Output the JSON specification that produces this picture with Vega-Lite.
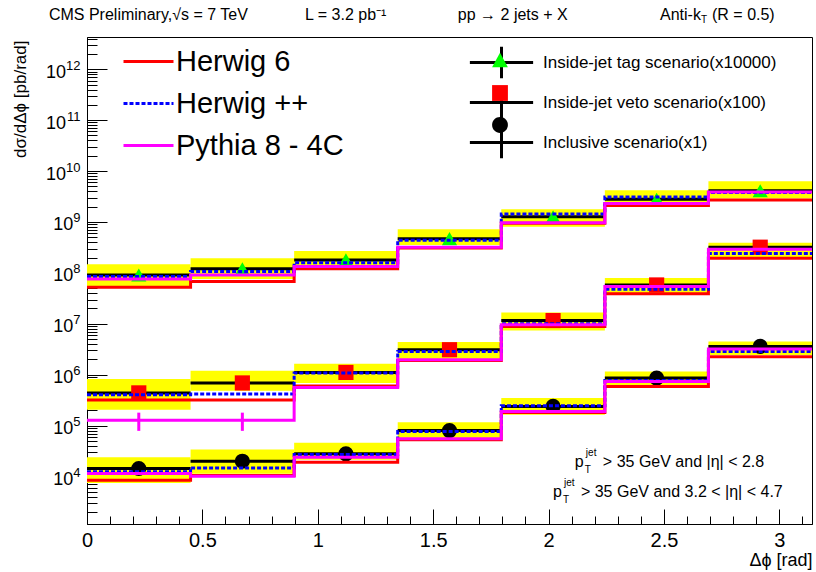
{
  "$schema": "https://vega.github.io/schema/vega-lite/v6.json",
  "width": 725,
  "height": 487,
  "autosize": {"type": "none"},
  "padding": {"left": 87, "top": 37, "right": 4, "bottom": 48},
  "background": "white",
  "config": {
    "font": "Liberation Sans",
    "view": {"stroke": "black", "strokeWidth": 1},
    "axis": {"labelFont": "Liberation Sans", "titleFont": "Liberation Sans", "tickColor": "black", "domainColor": "black", "labelColor": "black", "titleColor": "black", "grid": false, "tickWidth": 1, "domainWidth": 1, "titleFontWeight": "normal"},
    "legend": {"labelFont": "Liberation Sans", "labelColor": "black"},
    "text": {"font": "Liberation Sans", "color": "black"}
  },
  "datasets": {
    "hist": [
      {"scen": "Inside-jet tag scenario(x10000)", "bin": 1, "lo": 0.0, "hi": 0.4488, "xc": 0.2244, "data": 9.1e7, "blo": 5.4e7, "bhi": 1.48e8, "Herwig 6": 5.2e7, "Herwig ++": 8.5e7, "Pythia 8 - 4C": 7.6e7},
      {"scen": "Inside-jet tag scenario(x10000)", "bin": 2, "lo": 0.4488, "hi": 0.8976, "xc": 0.6732, "data": 1.2e8, "blo": 7.6e7, "bhi": 1.94e8, "Herwig 6": 6.75e7, "Herwig ++": 1.06e8, "Pythia 8 - 4C": 9.1e7},
      {"scen": "Inside-jet tag scenario(x10000)", "bin": 3, "lo": 0.8976, "hi": 1.3464, "xc": 1.122, "data": 1.8e8, "blo": 1.24e8, "bhi": 2.7e8, "Herwig 6": 1.2e8, "Herwig ++": 1.59e8, "Pythia 8 - 4C": 1.33e8},
      {"scen": "Inside-jet tag scenario(x10000)", "bin": 4, "lo": 1.3464, "hi": 1.7952, "xc": 1.5708, "data": 4.7e8, "blo": 3.55e8, "bhi": 7.2e8, "Herwig 6": 3.1e8, "Herwig ++": 4.4e8, "Pythia 8 - 4C": 3.2e8},
      {"scen": "Inside-jet tag scenario(x10000)", "bin": 5, "lo": 1.7952, "hi": 2.244, "xc": 2.0196, "data": 1.27e9, "blo": 8.1e8, "bhi": 1.78e9, "Herwig 6": 9.4e8, "Herwig ++": 1.44e9, "Pythia 8 - 4C": 9.7e8},
      {"scen": "Inside-jet tag scenario(x10000)", "bin": 6, "lo": 2.244, "hi": 2.6928, "xc": 2.4684, "data": 2.8e9, "blo": 2.15e9, "bhi": 4.2e9, "Herwig 6": 2.1e9, "Herwig ++": 3.1e9, "Pythia 8 - 4C": 2.3e9},
      {"scen": "Inside-jet tag scenario(x10000)", "bin": 7, "lo": 2.6928, "hi": 3.1416, "xc": 2.9172, "data": 4.1e9, "blo": 2.9e9, "bhi": 6.3e9, "Herwig 6": 2.7e9, "Herwig ++": 3.8e9, "Pythia 8 - 4C": 3.9e9},
      {"scen": "Inside-jet veto scenario(x100)", "bin": 1, "lo": 0.0, "hi": 0.4488, "xc": 0.2244, "data": 4.4e5, "blo": 2.06e5, "bhi": 8.2e5, "Herwig 6": 3.2e5, "Herwig ++": 4.05e5, "Pythia 8 - 4C": 1.27e5},
      {"scen": "Inside-jet veto scenario(x100)", "bin": 2, "lo": 0.4488, "hi": 0.8976, "xc": 0.6732, "data": 6.9e5, "blo": 4.85e5, "bhi": 1.2e6, "Herwig 6": 3.2e5, "Herwig ++": 4.2e5, "Pythia 8 - 4C": 1.27e5},
      {"scen": "Inside-jet veto scenario(x100)", "bin": 3, "lo": 0.8976, "hi": 1.3464, "xc": 1.122, "data": 1.11e6, "blo": 6.9e5, "bhi": 1.64e6, "Herwig 6": 6.0e5, "Herwig ++": 1.08e6, "Pythia 8 - 4C": 5.6e5},
      {"scen": "Inside-jet veto scenario(x100)", "bin": 4, "lo": 1.3464, "hi": 1.7952, "xc": 1.5708, "data": 3.1e6, "blo": 1.97e6, "bhi": 4.4e6, "Herwig 6": 1.9e6, "Herwig ++": 2.87e6, "Pythia 8 - 4C": 1.97e6},
      {"scen": "Inside-jet veto scenario(x100)", "bin": 5, "lo": 1.7952, "hi": 2.244, "xc": 2.0196, "data": 1.16e7, "blo": 7.4e6, "bhi": 1.67e7, "Herwig 6": 8.9e6, "Herwig ++": 1.0e7, "Pythia 8 - 4C": 9.6e6},
      {"scen": "Inside-jet veto scenario(x100)", "bin": 6, "lo": 2.244, "hi": 2.6928, "xc": 2.4684, "data": 5.8e7, "blo": 4.0e7, "bhi": 7.9e7, "Herwig 6": 3.9e7, "Herwig ++": 4.8e7, "Pythia 8 - 4C": 5.4e7},
      {"scen": "Inside-jet veto scenario(x100)", "bin": 7, "lo": 2.6928, "hi": 3.1416, "xc": 2.9172, "data": 3.2e8, "blo": 2.03e8, "bhi": 3.9e8, "Herwig 6": 1.94e8, "Herwig ++": 2.4e8, "Pythia 8 - 4C": 2.9e8},
      {"scen": "Inclusive scenario(x1)", "bin": 1, "lo": 0.0, "hi": 0.4488, "xc": 0.2244, "data": 1.44e4, "blo": 7.5e3, "bhi": 2.4e4, "Herwig 6": 8.5e3, "Herwig ++": 1.24e4, "Pythia 8 - 4C": 1.15e4},
      {"scen": "Inclusive scenario(x1)", "bin": 2, "lo": 0.4488, "hi": 0.8976, "xc": 0.6732, "data": 2.0e4, "blo": 1.13e4, "bhi": 3.4e4, "Herwig 6": 1.05e4, "Herwig ++": 1.48e4, "Pythia 8 - 4C": 1.01e4},
      {"scen": "Inclusive scenario(x1)", "bin": 3, "lo": 0.8976, "hi": 1.3464, "xc": 1.122, "data": 2.8e4, "blo": 2.15e4, "bhi": 4.6e4, "Herwig 6": 1.9e4, "Herwig ++": 2.7e4, "Pythia 8 - 4C": 2.4e4},
      {"scen": "Inclusive scenario(x1)", "bin": 4, "lo": 1.3464, "hi": 1.7952, "xc": 1.5708, "data": 8.0e4, "blo": 5.5e4, "bhi": 1.16e5, "Herwig 6": 5.3e4, "Herwig ++": 7.7e4, "Pythia 8 - 4C": 5.5e4},
      {"scen": "Inclusive scenario(x1)", "bin": 5, "lo": 1.7952, "hi": 2.244, "xc": 2.0196, "data": 2.39e5, "blo": 1.64e5, "bhi": 3.5e5, "Herwig 6": 1.82e5, "Herwig ++": 2.46e5, "Pythia 8 - 4C": 1.9e5},
      {"scen": "Inclusive scenario(x1)", "bin": 6, "lo": 2.244, "hi": 2.6928, "xc": 2.4684, "data": 8.6e5, "blo": 6.2e5, "bhi": 1.16e6, "Herwig 6": 5.9e5, "Herwig ++": 7.7e5, "Pythia 8 - 4C": 7.4e5},
      {"scen": "Inclusive scenario(x1)", "bin": 7, "lo": 2.6928, "hi": 3.1416, "xc": 2.9172, "data": 3.6e6, "blo": 2.45e6, "bhi": 4.5e6, "Herwig 6": 2.25e6, "Herwig ++": 2.87e6, "Pythia 8 - 4C": 3.2e6}
    ],
    "mcerr": [
      {"model": "Pythia 8 - 4C", "xc": 0.2244, "elo": 7.9e4, "ehi": 1.8e5},
      {"model": "Pythia 8 - 4C", "xc": 0.6732, "elo": 7.9e4, "ehi": 1.8e5}
    ],
    "one": [{}]
  },
  "data": {"name": "hist"},
  "layer": [
    {
      "mark": {"type": "rect", "color": "#ffff00"},
      "encoding": {
        "x": {"field": "lo", "type": "quantitative", "scale": {"domain": [0, 3.1416], "nice": false, "zero": false},
          "axis": {"orient": "bottom", "values": [0, 0.5, 1, 1.5, 2, 2.5, 3], "format": "~g", "tickSize": -15, "labelFontSize": 20, "labelPadding": 21, "labelFlush": false, "labelOverlap": false,
            "title": "Δϕ [rad]", "titleFontSize": 18, "titleAnchor": "end", "titleAlign": "right", "titleBaseline": "middle", "titleX": 725, "titleY": 36}},
        "x2": {"field": "hi"},
        "y": {"field": "blo", "type": "quantitative", "scale": {"type": "log", "domain": [1170, 4.3e12], "nice": false},
          "axis": {"orient": "left", "values": [1e10, 1e11, 1e12], "tickSize": -20, "labelFontSize": 18, "labelPadding": 41.5, "labelOffset": 3, "labelOverlap": false, "labelFlush": false, "labelAlign": "right", "labelBaseline": "middle",
            "labelExpr": "'10'",
            "title": "dσ/dΔϕ [pb/rad]", "titleFontSize": 17, "titleAnchor": "end", "titleAngle": 270, "titleAlign": "right", "titleBaseline": "middle", "titleX": -67, "titleY": 3}},
        "y2": {"field": "bhi"}
      }
    },
    {
      "mark": {"type": "rule", "color": "black", "strokeWidth": 3},
      "encoding": {
        "x": {"field": "lo", "type": "quantitative", "scale": {"domain": [0, 3.1416], "nice": false, "zero": false},
          "axis": {"orient": "bottom", "values": [0.1, 0.2, 0.3, 0.4, 0.6, 0.7, 0.8, 0.9, 1.1, 1.2, 1.3, 1.4, 1.6, 1.7, 1.8, 1.9, 2.1, 2.2, 2.3, 2.4, 2.6, 2.7, 2.8, 2.9, 3.1], "tickSize": -8, "labels": false, "domain": false, "title": null}},
        "x2": {"field": "hi"},
        "y": {"field": "data", "type": "quantitative", "scale": {"type": "log", "domain": [1170, 4.3e12], "nice": false},
          "axis": {"orient": "left", "values": [2e3, 3e3, 4e3, 5e3, 6e3, 7e3, 8e3, 9e3, 2e4, 3e4, 4e4, 5e4, 6e4, 7e4, 8e4, 9e4, 2e5, 3e5, 4e5, 5e5, 6e5, 7e5, 8e5, 9e5, 2e6, 3e6, 4e6, 5e6, 6e6, 7e6, 8e6, 9e6, 2e7, 3e7, 4e7, 5e7, 6e7, 7e7, 8e7, 9e7, 2e8, 3e8, 4e8, 5e8, 6e8, 7e8, 8e8, 9e8, 2e9, 3e9, 4e9, 5e9, 6e9, 7e9, 8e9, 9e9, 2e10, 3e10, 4e10, 5e10, 6e10, 7e10, 8e10, 9e10, 2e11, 3e11, 4e11, 5e11, 6e11, 7e11, 8e11, 9e11, 2e12, 3e12, 4e12], "tickSize": -10, "labels": false, "domain": false, "title": null}}
      }
    },
    {
      "mark": {"type": "point", "filled": true, "size": 230, "opacity": 1, "strokeWidth": 0},
      "encoding": {
        "x": {"field": "xc", "type": "quantitative", "scale": {"domain": [0, 3.1416], "nice": false, "zero": false}, "axis": null},
        "y": {"field": "data", "type": "quantitative", "scale": {"type": "log", "domain": [1170, 4.3e12], "nice": false},
          "axis": {"orient": "left", "values": [1e4, 1e5, 1e6, 1e7, 1e8, 1e9], "tickSize": -20, "domain": false, "labelFontSize": 18, "labelPadding": 34.2, "labelOffset": 3, "labelOverlap": false, "labelFlush": false, "labelAlign": "right", "labelBaseline": "middle", "labelExpr": "'10'", "title": null}},
        "shape": {"field": "scen", "type": "nominal", "scale": {"domain": ["Inside-jet tag scenario(x10000)", "Inside-jet veto scenario(x100)", "Inclusive scenario(x1)"], "range": ["triangle-up", "square", "circle"]}, "legend": null},
        "fill": {"field": "scen", "type": "nominal", "scale": {"domain": ["Inside-jet tag scenario(x10000)", "Inside-jet veto scenario(x100)", "Inclusive scenario(x1)"], "range": ["#00ff00", "#ff0000", "#000000"]}, "legend": null}
      }
    },
    {
      "transform": [
        {"fold": ["Herwig 6", "Herwig ++", "Pythia 8 - 4C"], "as": ["model", "val"]},
        {"fold": ["lo", "hi"], "as": ["edge", "xe"]}
      ],
      "mark": {"type": "line", "strokeWidth": 3},
      "encoding": {
        "x": {"field": "xe", "type": "quantitative", "scale": {"domain": [0, 3.1416], "nice": false, "zero": false}, "axis": null},
        "y": {"field": "val", "type": "quantitative", "scale": {"type": "log", "domain": [1170, 4.3e12], "nice": false}, "axis": null},
        "stroke": {"field": "model", "type": "nominal", "scale": {"domain": ["Herwig 6", "Herwig ++", "Pythia 8 - 4C"], "range": ["#ff0000", "#0000ff", "#ff00ff"]},
          "legend": {"orient": "none", "legendX": 35, "legendY": -2, "title": null, "symbolType": "stroke", "symbolSize": 2500, "symbolStrokeWidth": 3, "labelFontSize": 29, "labelOffset": 1, "rowPadding": -3, "labelLimit": 400}},
        "strokeDash": {"field": "model", "type": "nominal", "scale": {"domain": ["Herwig 6", "Herwig ++", "Pythia 8 - 4C"], "range": [[1, 0], [4, 2], [1, 0]]},
          "legend": {"orient": "none", "legendX": 35, "legendY": -2, "title": null, "symbolType": "stroke", "symbolSize": 2500, "symbolStrokeWidth": 3, "labelFontSize": 29, "labelOffset": 1, "rowPadding": -3, "labelLimit": 400}},
        "detail": {"field": "scen"},
        "order": [{"field": "bin", "type": "quantitative"}, {"field": "edge", "type": "nominal", "sort": "descending"}]
      }
    },
    {
      "data": {"name": "mcerr"},
      "mark": {"type": "rule", "color": "#ff00ff", "strokeWidth": 3},
      "encoding": {
        "x": {"field": "xc", "type": "quantitative", "scale": {"domain": [0, 3.1416], "nice": false, "zero": false}, "axis": null},
        "y": {"field": "elo", "type": "quantitative", "scale": {"type": "log", "domain": [1170, 4.3e12], "nice": false},
          "axis": {"orient": "left", "values": [1e4, 1e5, 1e6, 1e7, 1e8, 1e9, 1e10, 1e11, 1e12], "ticks": false, "tickSize": 0, "domain": false, "labelFontSize": 13, "labelPadding": 7, "labelOffset": -4, "labelAlign": "right", "labelBaseline": "middle", "labelOverlap": false, "labelFlush": false,
            "labelExpr": "'' + round(log(datum.value)/LN10)", "title": null}},
        "y2": {"field": "ehi"}
      }
    },
    {
      "data": {"values": []},
      "mark": {"type": "point", "filled": false, "opacity": 1, "color": "black", "strokeWidth": 3},
      "encoding": {
        "shape": {"field": "scen", "type": "nominal", "scale": {"domain": ["Inside-jet tag scenario(x10000)", "Inside-jet veto scenario(x100)", "Inclusive scenario(x1)"], "range": ["M-2,0H2M0,-1V1", "M-2,0H2M0,-1V1", "M-2,0H2M0,-1V1"]},
          "legend": {"orient": "none", "legendX": 397, "legendY": 8, "title": null, "symbolSize": 1000, "symbolStrokeWidth": 3, "symbolStrokeColor": "black", "symbolFillColor": "transparent", "labelFontSize": 17, "labelOffset": 24, "rowPadding": -6, "labelLimit": 400, "zindex": 1,
            "encode": {"symbols": {"update": {"opacity": {"value": 1}, "stroke": {"value": "black"}, "strokeWidth": {"value": 3}, "fill": {"value": "transparent"}}}}}}
      }
    },
    {
      "data": {"values": []},
      "mark": {"type": "point", "filled": true, "opacity": 1, "strokeWidth": 0},
      "encoding": {
        "shape": {"field": "scen", "type": "nominal", "scale": {"domain": ["Inside-jet tag scenario(x10000)", "Inside-jet veto scenario(x100)", "Inclusive scenario(x1)"], "range": ["M-2,-1M2,1M0,-0.52L0.5,0.4L-0.5,0.4Z", "M-2,-1M2,1M-0.5,-0.5H0.5V0.5H-0.5Z", "M-2,-1M2,1M0.5,0A0.5,0.5 0 1,1 -0.5,0A0.5,0.5 0 1,1 0.5,0Z"]},
          "legend": {"orient": "none", "legendX": 397, "legendY": 8, "title": null, "symbolSize": 1000, "symbolStrokeWidth": 0, "labelFontSize": 17, "labelOffset": 24, "rowPadding": -6, "labelLimit": 400, "labelExpr": "''", "zindex": 2,
            "encode": {"symbols": {"update": {"opacity": {"value": 1}, "strokeWidth": {"value": 0}}}}}},
        "fill": {"field": "scen", "type": "nominal", "scale": {"domain": ["Inside-jet tag scenario(x10000)", "Inside-jet veto scenario(x100)", "Inclusive scenario(x1)"], "range": ["#00ff00", "#ff0000", "#000000"]},
          "legend": {"orient": "none", "legendX": 397, "legendY": 8, "title": null, "symbolSize": 1000, "symbolStrokeWidth": 0, "labelFontSize": 17, "labelOffset": 24, "rowPadding": -6, "labelLimit": 400, "labelExpr": "''", "zindex": 2,
            "encode": {"symbols": {"update": {"opacity": {"value": 1}, "strokeWidth": {"value": 0}}}}}}
      }
    },
    {
      "data": {"name": "one"},
      "mark": {"type": "text", "align": "left", "baseline": "middle", "fontSize": 16, "color": "black", "text": "CMS Preliminary,√s = 7 TeV"},
      "encoding": {"x": {"datum": -0.165, "type": "quantitative", "axis": null}, "y": {"datum": 1.17e13, "type": "quantitative", "axis": null}}
    },
    {
      "data": {"name": "one"},
      "mark": {"type": "text", "align": "left", "baseline": "middle", "fontSize": 16, "color": "black", "text": "L = 3.2 pb⁻¹"},
      "encoding": {"x": {"datum": 0.945, "type": "quantitative", "axis": null}, "y": {"datum": 1.17e13, "type": "quantitative", "axis": null}}
    },
    {
      "data": {"name": "one"},
      "mark": {"type": "text", "align": "left", "baseline": "middle", "fontSize": 16, "color": "black", "text": "pp → 2 jets + X"},
      "encoding": {"x": {"datum": 1.607, "type": "quantitative", "axis": null}, "y": {"datum": 1.17e13, "type": "quantitative", "axis": null}}
    },
    {
      "data": {"name": "one"},
      "mark": {"type": "text", "align": "left", "baseline": "middle", "fontSize": 16, "color": "black", "text": "Anti-k"},
      "encoding": {"x": {"datum": 2.483, "type": "quantitative", "axis": null}, "y": {"datum": 1.17e13, "type": "quantitative", "axis": null}}
    },
    {
      "data": {"name": "one"},
      "mark": {"type": "text", "align": "left", "baseline": "middle", "fontSize": 10, "color": "black", "text": "T", "dx": 41, "dy": 5},
      "encoding": {"x": {"datum": 2.483, "type": "quantitative", "axis": null}, "y": {"datum": 1.17e13, "type": "quantitative", "axis": null}}
    },
    {
      "data": {"name": "one"},
      "mark": {"type": "text", "align": "left", "baseline": "middle", "fontSize": 16, "color": "black", "text": "(R = 0.5)", "dx": 52},
      "encoding": {"x": {"datum": 2.483, "type": "quantitative", "axis": null}, "y": {"datum": 1.17e13, "type": "quantitative", "axis": null}}
    },
    {
      "data": {"name": "one"},
      "mark": {"type": "text", "align": "left", "baseline": "middle", "fontSize": 16, "color": "black", "text": "p"},
      "encoding": {"x": {"datum": 2.114, "type": "quantitative", "axis": null}, "y": {"datum": 1.91e4, "type": "quantitative", "axis": null}}
    },
    {
      "data": {"name": "one"},
      "mark": {"type": "text", "align": "left", "baseline": "middle", "fontSize": 10, "color": "black", "text": "jet", "dx": 11, "dy": -9},
      "encoding": {"x": {"datum": 2.114, "type": "quantitative", "axis": null}, "y": {"datum": 1.91e4, "type": "quantitative", "axis": null}}
    },
    {
      "data": {"name": "one"},
      "mark": {"type": "text", "align": "left", "baseline": "middle", "fontSize": 10, "color": "black", "text": "T", "dx": 10, "dy": 8},
      "encoding": {"x": {"datum": 2.114, "type": "quantitative", "axis": null}, "y": {"datum": 1.91e4, "type": "quantitative", "axis": null}}
    },
    {
      "data": {"name": "one"},
      "mark": {"type": "text", "align": "left", "baseline": "middle", "fontSize": 16, "color": "black", "text": "> 35 GeV and |η| < 2.8", "dx": 28},
      "encoding": {"x": {"datum": 2.114, "type": "quantitative", "axis": null}, "y": {"datum": 1.91e4, "type": "quantitative", "axis": null}}
    },
    {
      "data": {"name": "one"},
      "mark": {"type": "text", "align": "left", "baseline": "middle", "fontSize": 16, "color": "black", "text": "p"},
      "encoding": {"x": {"datum": 2.019, "type": "quantitative", "axis": null}, "y": {"datum": 5.05e3, "type": "quantitative", "axis": null}}
    },
    {
      "data": {"name": "one"},
      "mark": {"type": "text", "align": "left", "baseline": "middle", "fontSize": 10, "color": "black", "text": "jet", "dx": 11, "dy": -9},
      "encoding": {"x": {"datum": 2.019, "type": "quantitative", "axis": null}, "y": {"datum": 5.05e3, "type": "quantitative", "axis": null}}
    },
    {
      "data": {"name": "one"},
      "mark": {"type": "text", "align": "left", "baseline": "middle", "fontSize": 10, "color": "black", "text": "T", "dx": 10, "dy": 8},
      "encoding": {"x": {"datum": 2.019, "type": "quantitative", "axis": null}, "y": {"datum": 5.05e3, "type": "quantitative", "axis": null}}
    },
    {
      "data": {"name": "one"},
      "mark": {"type": "text", "align": "left", "baseline": "middle", "fontSize": 16, "color": "black", "text": "> 35 GeV and 3.2 < |η| < 4.7", "dx": 28},
      "encoding": {"x": {"datum": 2.019, "type": "quantitative", "axis": null}, "y": {"datum": 5.05e3, "type": "quantitative", "axis": null}}
    }
  ],
  "resolve": {
    "scale": {"shape": "independent", "fill": "independent"},
    "axis": {"x": "independent", "y": "independent"},
    "legend": {"shape": "independent", "fill": "independent"}
  }
}
